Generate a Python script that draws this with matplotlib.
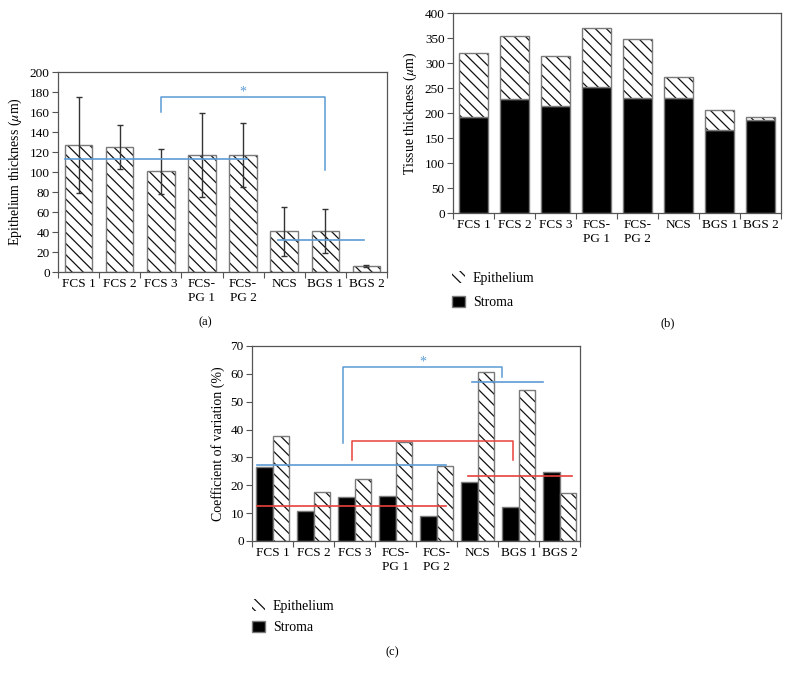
import matplotlib
matplotlib.use("Agg")
import matplotlib.pyplot as plt
import numpy as np

plt.rcParams['font.family'] = ['Liberation Serif', 'DejaVu Serif']
plt.rcParams['mathtext.fontset'] = 'stix'
plt.rcParams['hatch.linewidth'] = 0.9
plt.rcParams['font.size'] = 9

groups = ["FCS 1", "FCS 2", "FCS 3", "FCS-\nPG 1", "FCS-\nPG 2", "NCS", "BGS 1", "BGS 2"]

# (a) epithelium thickness, mean and SD
epi_thick = [127, 125, 101, 117, 117, 41, 41, 6]
epi_sd = [48, 22, 22.5, 42, 32, 24.5, 22, 1]

# (b) tissue thickness, stacked
stroma_thick = [193, 229, 214, 253, 231, 231, 166, 186]
total_thick = [320, 354, 314, 370, 348, 272, 206, 192]

# (c) coefficient of variation
cv_stroma = [26.7, 10.9, 15.9, 16.1, 8.8, 21.0, 12.3, 24.7]
cv_epi = [37.8, 17.5, 22.1, 35.4, 26.9, 60.7, 54.3, 17.4]

blue = '#5b9bd5'
red = '#e8413c'
edge = '#7a7a7a'
spine = '#555555'
hatch = chr(92) * 3
x = np.arange(len(groups))

fig = plt.figure(figsize=(7.9, 6.78), dpi=100)


def hatched_bar(ax, xs, heights, width, bottom=0, label=None):
    # black hatch lines, grey outline on top
    ax.bar(xs, heights, width=width, bottom=bottom, color='white', edgecolor='#111111',
           hatch=hatch, lw=0, zorder=2, label=label)
    ax.bar(xs, heights, width=width, bottom=bottom, fill=False, edgecolor=edge, lw=1, zorder=2.1)


def style_axes(ax, ymax, ystep):
    for s in ax.spines.values():
        s.set_color(spine)
        s.set_linewidth(0.9)
    ax.set_xlim(-0.5, len(groups) - 0.5)
    ax.set_ylim(0, ymax)
    ax.set_yticks(np.arange(0, ymax + 1, ystep))
    ax.set_xticks(np.arange(-0.5, len(groups), 1.0))
    ax.set_xticklabels([])
    ax.set_xticks(x, minor=True)
    ax.set_xticklabels(groups, minor=True, fontsize=9.5, linespacing=1.25)
    ax.tick_params(axis='x', which='major', length=4, color=spine, direction='out')
    ax.tick_params(axis='x', which='minor', length=0, pad=4)
    ax.tick_params(axis='y', length=4, color=spine, direction='out', labelsize=9.5, pad=2)


# ---- (a)
ax1 = fig.add_axes([0.0734, 0.5988, 0.4165, 0.295])
hatched_bar(ax1, x, epi_thick, 0.67)
ax1.errorbar(x, epi_thick, yerr=epi_sd, fmt='none', ecolor='#333333', elinewidth=1,
             capsize=2.5, capthick=1, zorder=3)
ax1.plot([-0.33, 4.1], [113, 113], color=blue, lw=1.2, zorder=4)
ax1.plot([4.85, 6.93], [32, 32], color=blue, lw=1.2, zorder=4)
ax1.plot([2, 2, 6, 6], [160, 175.5, 175.5, 102], color=blue, lw=1.1, zorder=4)
ax1.text(4.0, 180, '*', color=blue, ha='center', va='center', fontsize=10)
style_axes(ax1, 200, 20)
ax1.set_ylabel('Epithelium thickness ($\\mu$m)', fontsize=10, labelpad=4)
fig.text(205 / 790, 1 - 322 / 678, '(a)', ha='center', va='center', fontsize=9)

# ---- (b)
ax2 = fig.add_axes([0.5734, 0.6858, 0.4152, 0.295])
epi_part = [t - s for t, s in zip(total_thick, stroma_thick)]
ax2.bar(x, stroma_thick, width=0.69, color='black', edgecolor=edge, lw=1, zorder=2, label='Stroma')
hatched_bar(ax2, x, epi_part, 0.69, bottom=stroma_thick, label='Epithelium')
style_axes(ax2, 400, 50)
ax2.set_ylabel('Tissue thickness ($\\mu$m)', fontsize=10, labelpad=4)
h, l = ax2.get_legend_handles_labels()
ax2.legend(h[::-1], l[::-1], loc='upper left', bbox_to_anchor=(452 / 790, 1 - 271 / 678),
           bbox_transform=fig.transFigure, frameon=False, handlelength=0.9, handleheight=0.9,
           handletextpad=0.6, labelspacing=0.8, borderpad=0, borderaxespad=0, fontsize=10)
fig.text(668 / 790, 1 - 323 / 678, '(b)', ha='center', va='center', fontsize=9)

# ---- (c)
ax3 = fig.add_axes([0.319, 0.2021, 0.4152, 0.2876])
ax3.bar(x - 0.2, cv_stroma, width=0.4, color='black', edgecolor=edge, lw=1, zorder=2, label='Stroma')
hatched_bar(ax3, x + 0.2, cv_epi, 0.4, label='Epithelium')
ax3.plot([-0.39, 4.22], [27.4, 27.4], color=blue, lw=1.2, zorder=4)
ax3.plot([-0.39, 4.22], [12.4, 12.4], color=red, lw=1.2, zorder=4)
ax3.plot([4.87, 6.6], [57.0, 57.0], color=blue, lw=1.2, zorder=4)
ax3.plot([4.76, 7.3], [23.5, 23.5], color=red, lw=1.2, zorder=4)
ax3.plot([1.73, 1.73, 5.59, 5.59], [35.1, 62.4, 62.4, 58.7], color=blue, lw=1.1, zorder=4)
ax3.plot([1.94, 1.94, 5.87, 5.87], [28.9, 35.8, 35.8, 28.9], color=red, lw=1.1, zorder=4)
ax3.text(3.67, 64.3, '*', color=blue, ha='center', va='center', fontsize=10)
style_axes(ax3, 70, 10)
ax3.set_ylabel('Coefficient of variation (%)', fontsize=10, labelpad=4)
h, l = ax3.get_legend_handles_labels()
ax3.legend(h[::-1], l[::-1], loc='upper left', bbox_to_anchor=(252 / 790, 1 - 599 / 678),
           bbox_transform=fig.transFigure, frameon=False, handlelength=0.9, handleheight=0.9,
           handletextpad=0.6, labelspacing=0.6, borderpad=0, borderaxespad=0, fontsize=10)
fig.text(392 / 790, 1 - 652 / 678, '(c)', ha='center', va='center', fontsize=9)

fig.savefig('out.png', dpi=100)
